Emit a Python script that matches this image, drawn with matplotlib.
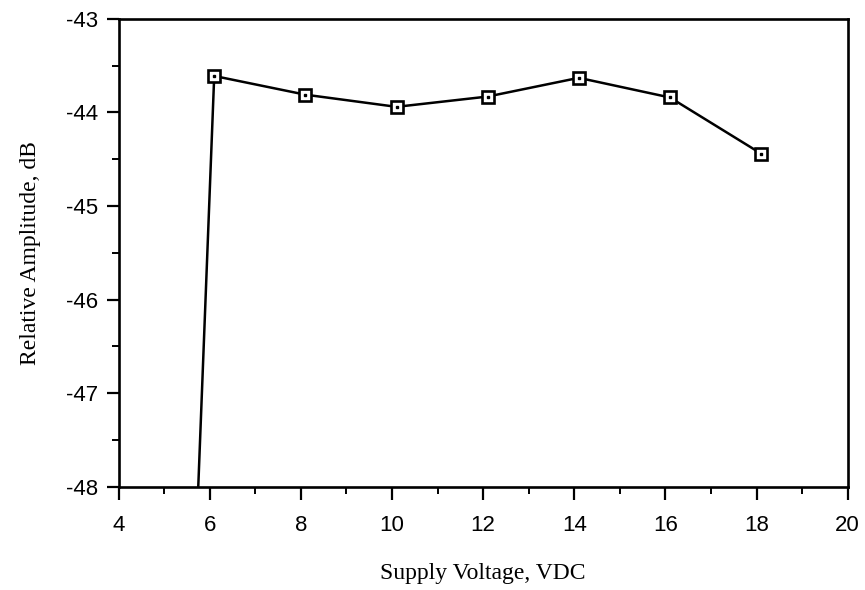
import matplotlib.pyplot as plt
from matplotlib.ticker import MultipleLocator

# Supply voltage sweep (VDC) and relative amplitude (dB)
voltage = [6.1, 8.1, 10.1, 12.1, 14.1, 16.1, 18.1]
amplitude = [-43.61, -43.81, -43.94, -43.83, -43.63, -43.84, -44.44]

# drop-out below ~5.75 V (line runs off the bottom of the plot)
cutoff_v = 5.75
cutoff_db = -48.0

x_ticks = [4, 6, 8, 10, 12, 14, 16, 18, 20]
y_ticks = [-48, -47, -46, -45, -44, -43]

fig = plt.figure(figsize=(8.65, 5.9), dpi=100)
ax = fig.add_axes([0.137, 0.175, 0.843, 0.793])

ax.plot([cutoff_v] + voltage, [cutoff_db] + amplitude, color='black', lw=1.8,
        zorder=2)
ax.plot(voltage, amplitude, ls='none', marker='s', ms=8.5, mfc='white',
        mec='black', mew=1.9, zorder=3)
ax.plot(voltage, amplitude, ls='none', marker='s', ms=1.6, color='black',
        zorder=4)

ax.set_xlim(4, 20)
ax.set_ylim(-48, -43)
ax.set_xticks(x_ticks)
ax.set_yticks(y_ticks)
ax.set_xticklabels([str(v) for v in x_ticks])
ax.set_yticklabels([str(v) for v in y_ticks])
ax.xaxis.set_minor_locator(MultipleLocator(1))
ax.yaxis.set_minor_locator(MultipleLocator(0.5))

for side in ax.spines.values():
    side.set_linewidth(1.9)

ax.tick_params(axis='both', which='major', direction='out', length=9,
               width=1.6, labelsize=16, pad=6)
ax.tick_params(axis='x', which='major', pad=11)
ax.tick_params(axis='both', which='minor', direction='out', length=5,
               width=1.4)
for lbl in ax.get_xticklabels() + ax.get_yticklabels():
    lbl.set_family('Liberation Sans')

ax.set_xlabel('Supply Voltage, VDC', family='Liberation Serif', fontsize=17,
              labelpad=20)
ax.set_ylabel('Relative Amplitude, dB', family='Liberation Serif',
              fontsize=17, labelpad=18)

fig.savefig('out.png', dpi=100)
